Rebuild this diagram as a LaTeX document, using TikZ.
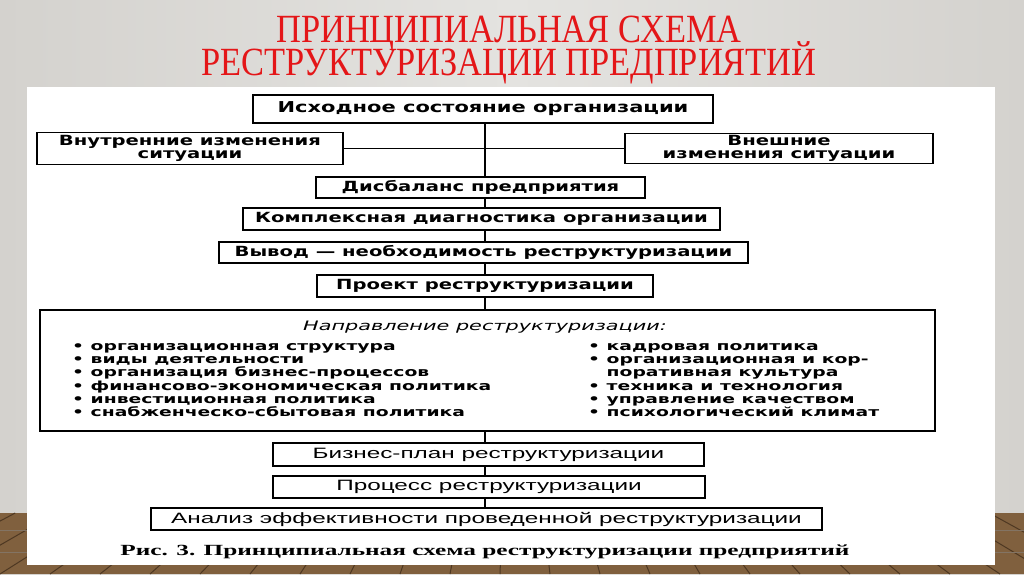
\documentclass[tikz,border=0pt]{standalone}
\usepackage{fontspec}
\newfontfamily\titlefont[FakeStretch=0.86]{Liberation Serif}
\newfontfamily\heavyfont[FakeStretch=1.4]{DejaVu Sans}
\newfontfamily\itemfont[FakeStretch=1.5]{DejaVu Sans}
\newfontfamily\headfont[FakeStretch=1.6]{DejaVu Sans}
\newfontfamily\lightfont[FakeStretch=1.62]{Liberation Sans}
\newfontfamily\capfont[FakeStretch=1.63]{Liberation Serif}
\definecolor{wall}{RGB}{212,210,206}
\definecolor{wallc}{RGB}{228,227,224}
\definecolor{floorc}{RGB}{128,96,62}
\definecolor{plank}{RGB}{78,56,34}
\definecolor{titlered}{RGB}{228,22,24}
\tikzset{
  hbox/.style={draw=black, line width=1.2pt, fill=white, inner sep=0pt, align=center,
    font=\fontsize{14}{13}\selectfont\heavyfont\bfseries,
    append after command={\pgfextra{\draw[line width=2.4pt] ([xshift=-0.6pt]\tikzlastnode.north east) -- ([xshift=-0.6pt]\tikzlastnode.south east);}}},
  lbox/.style={hbox, font=\fontsize{15}{13}\selectfont\lightfont},
  conn/.style={draw=black, line width=1.1pt},
  item/.style={anchor=base west, inner sep=0pt, font=\fontsize{12.5}{13}\selectfont\itemfont\bfseries},
  titletext/.style={anchor=base, inner sep=0pt, text=titlered, font=\fontsize{40}{40}\selectfont\titlefont},
}
\begin{document}
\begin{tikzpicture}[x=1pt,y=-1pt]
\useasboundingbox (0,0) rectangle (1024,574);
% background
\shade[left color=wall, right color=wall, middle color=wallc] (0,0) rectangle (1024,574);
\fill[floorc] (0,513) rectangle (1024,574);
\foreach \xb in {-900,-850,...,1900}
  \draw[plank, line width=1pt] (\xb,574) -- ({512+(\xb-512)*0.8117},513);
\foreach \yy in {530,552}
  \draw[plank!70, line width=0.6pt] (0,\yy) -- (1024,\yy);
\fill[white] (27,87) rectangle (995,565);
% title
\node[titletext] (t1) at (509,42) {ПРИНЦИПИАЛЬНАЯ СХЕМА};
\node[titletext] (t2) at (509,75) {РЕСТРУКТУРИЗАЦИИ ПРЕДПРИЯТИЙ};
% boxes
\node[hbox, minimum width=460, minimum height=28, font=\fontsize{15}{13}\selectfont\heavyfont\bfseries] (top) at (483,109) {Исходное состояние организации};
\node[hbox, minimum width=306, minimum height=32] (inner) at (190,148.5) {Внутренние изменения\\ситуации};
\node[hbox, minimum width=308, minimum height=30] (outer) at (779,148.5) {Внешние\\изменения ситуации};
\node[hbox, minimum width=329, minimum height=21] (dis) at (480.5,187.5) {Дисбаланс предприятия};
\node[hbox, minimum width=477, minimum height=22] (kom) at (481.5,219) {Комплексная диагностика организации};
\node[hbox, minimum width=529, minimum height=21] (vyv) at (483.5,252.5) {Вывод — необходимость реструктуризации};
\node[hbox, minimum width=336, minimum height=22] (proj) at (485,286) {Проект реструктуризации};
\node[hbox, minimum width=895, minimum height=121] (big) at (487.5,370.5) {};
\node[lbox, minimum width=431, minimum height=23] (biz) at (488.5,454.5) {Бизнес-план реструктуризации};
\node[lbox, minimum width=432, minimum height=22] (proc) at (489,487) {Процесс реструктуризации};
\node[lbox, minimum width=671, minimum height=22] (anal) at (486.5,519) {Анализ эффективности проведенной реструктуризации};
% big box contents
\node[anchor=base, inner sep=0pt, font=\fontsize{13}{13}\selectfont\headfont\itshape] (head) at (485,330) {Направление реструктуризации:};
\node[item] (l1) at (72,350) {• организационная структура};
\node[item] (l2) at (72,363.3) {• виды деятельности};
\node[item] (l3) at (72,376.6) {• организация бизнес-процессов};
\node[item] (l4) at (72,390) {• финансово-экономическая политика};
\node[item] (l5) at (72,403.3) {• инвестиционная политика};
\node[item] (l6) at (72,416.6) {• снабженческо-сбытовая политика};
\node[item] (r1) at (588,350) {• кадровая политика};
\node[item] (r2) at (588,363.3) {• организационная и кор-};
\node[item] (r3) at (588,376.6) {\phantom{• }поративная культура};
\node[item] (r4) at (588,390) {• техника и технология};
\node[item] (r5) at (588,403.3) {• управление качеством};
\node[item] (r6) at (588,416.6) {• психологический климат};
% caption
\node[anchor=base, inner sep=0pt, font=\fontsize{15.5}{15}\selectfont\capfont\bfseries] (cap) at (485,555) {Рис. 3. Принципиальная схема реструктуризации предприятий};
% connectors
\coordinate (sp) at (485,0);
\draw[conn] (inner.east) -- (outer.west);
\draw[conn] (top.south -| sp) -- (dis.north -| sp);
\draw[conn] (dis.south -| sp) -- (kom.north -| sp);
\draw[conn] (kom.south -| sp) -- (vyv.north -| sp);
\draw[conn] (vyv.south -| sp) -- (proj.north -| sp);
\draw[conn] (proj.south -| sp) -- (big.north -| sp);
\draw[conn] (big.south -| sp) -- (biz.north -| sp);
\draw[conn] (biz.south -| sp) -- (proc.north -| sp);
\draw[conn] (proc.south -| sp) -- (anal.north -| sp);
\end{tikzpicture}
\end{document}
